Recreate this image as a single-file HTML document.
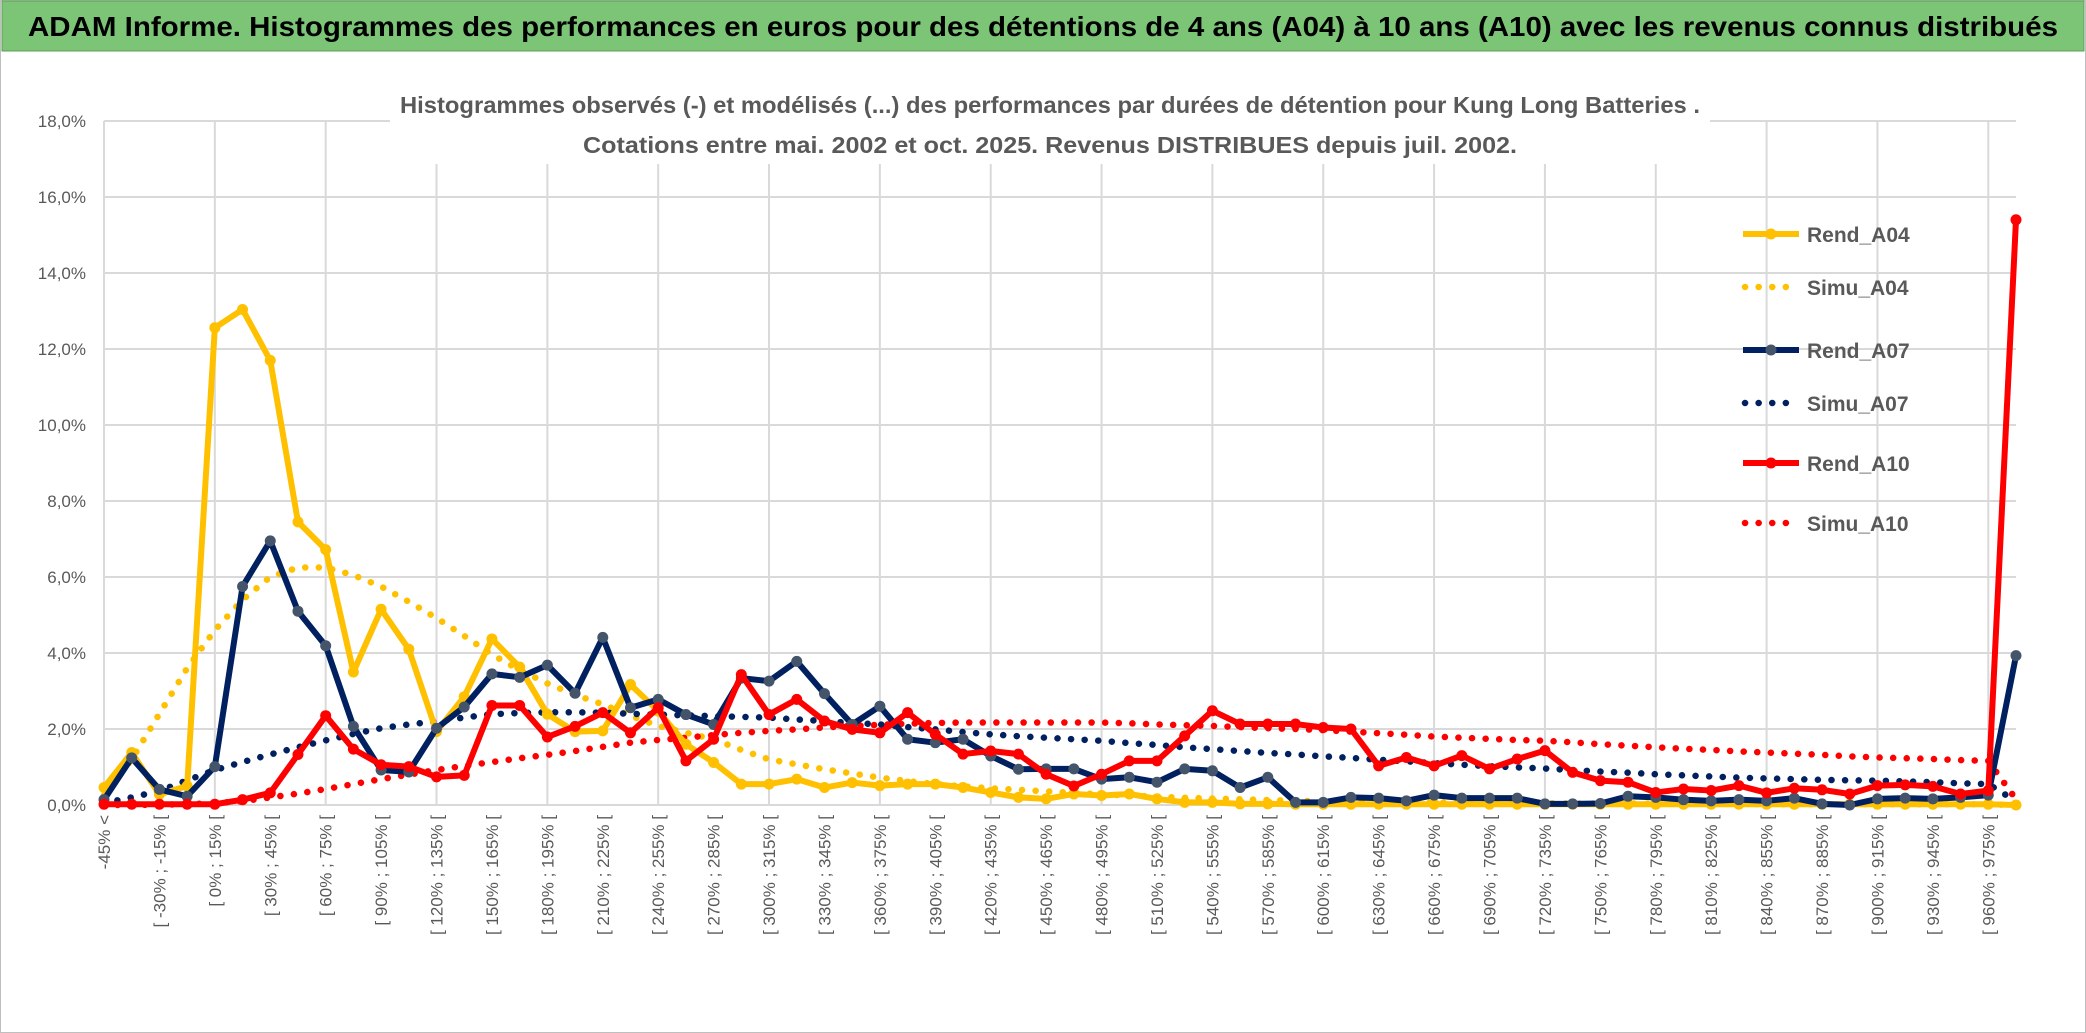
<!DOCTYPE html>
<html><head><meta charset="utf-8"><style>
html,body{margin:0;padding:0;background:#fff}
svg{display:block}
text{font-family:"Liberation Sans",sans-serif}
</style></head><body>
<svg id="chart" width="2086" height="1033" viewBox="0 0 2086 1033" xmlns="http://www.w3.org/2000/svg">
<rect x="0.5" y="0.5" width="2085" height="1032" fill="#fff" stroke="#bfbfbf"/>
<rect x="2" y="1" width="2082" height="50" fill="#7cc576" stroke="#5a9f55"/>
<text x="1043" y="36" text-anchor="middle" font-size="28" font-weight="bold" fill="#000" textLength="2030" lengthAdjust="spacingAndGlyphs">ADAM Informe. Histogrammes des performances en euros pour des détentions de 4 ans (A04) à 10 ans (A10) avec les revenus connus distribués</text>
<g id="grid"></g><g id="yaxis"></g><g id="xaxis"></g>
<rect x="390" y="88" width="1320" height="76" fill="#fff"/>
<text x="1050" y="113" text-anchor="middle" font-size="23" font-weight="bold" fill="#595959" textLength="1300" lengthAdjust="spacingAndGlyphs">Histogrammes observés (-) et modélisés (...) des performances par durées de détention pour Kung Long Batteries .</text>
<text x="1050" y="153" text-anchor="middle" font-size="23" font-weight="bold" fill="#595959" textLength="934" lengthAdjust="spacingAndGlyphs">Cotations entre mai. 2002 et oct. 2025. Revenus DISTRIBUES depuis juil. 2002.</text>
<g id="series"></g><g id="legend"></g>
</svg>
<script>
const categories = [];
categories.push('-45% <');
for (let lo = -45; lo < 975; lo += 15) categories.push('[ ' + lo + '% ; ' + (lo + 15) + '% [');
categories.push('> 975%');
const yTicks = [0,2,4,6,8,10,12,14,16,18];
const rendA04 = [0.46,1.38,0.28,0.5,12.56,13.04,11.7,7.45,6.72,3.5,5.15,4.1,1.93,2.85,4.37,3.63,2.39,1.93,1.95,3.17,2.47,1.6,1.12,0.55,0.55,0.68,0.46,0.59,0.51,0.55,0.55,0.46,0.33,0.2,0.16,0.29,0.25,0.29,0.16,0.07,0.07,0.03,0.03,0.02,0.02,0.02,0.02,0.02,0.02,0.02,0.02,0.02,0.02,0.02,0.02,0.02,0.02,0.02,0.02,0.02,0.02,0.02,0.02,0.02,0.02,0.02,0.02,0.02,0.02,0.0];
const simuA04 = [0.25,1.2,2.4,3.6,4.6,5.4,6.0,6.25,6.25,6.05,5.75,5.35,4.92,4.45,3.96,3.55,3.2,2.9,2.65,2.35,2.08,1.9,1.73,1.45,1.2,1.07,0.94,0.83,0.72,0.63,0.55,0.49,0.44,0.4,0.36,0.32,0.28,0.25,0.22,0.19,0.17,0.15,0.13,0.11,0.1,0.09,0.08,0.07,0.07,0.06,0.06,0.05,0.05,0.04,0.04,0.04,0.03,0.03,0.03,0.03,0.02,0.02,0.02,0.02,0.02,0.02,0.02,0.02,0.02,0.0];
const rendA07 = [0.14,1.24,0.41,0.23,1.01,5.75,6.95,5.1,4.19,2.07,0.92,0.87,2.02,2.58,3.45,3.36,3.68,2.94,4.41,2.56,2.78,2.38,2.12,3.34,3.26,3.78,2.93,2.12,2.6,1.73,1.64,1.73,1.29,0.94,0.95,0.95,0.68,0.73,0.6,0.95,0.9,0.46,0.73,0.07,0.07,0.2,0.18,0.11,0.26,0.18,0.18,0.18,0.03,0.03,0.04,0.23,0.2,0.14,0.11,0.14,0.11,0.18,0.03,0.0,0.16,0.18,0.16,0.2,0.26,3.93];
const simuA07 = [0.05,0.2,0.37,0.65,0.92,1.13,1.33,1.52,1.7,1.87,2.02,2.12,2.2,2.3,2.39,2.42,2.44,2.44,2.43,2.4,2.38,2.36,2.34,2.32,2.3,2.25,2.21,2.16,2.12,2.05,1.99,1.92,1.86,1.81,1.77,1.73,1.69,1.63,1.58,1.52,1.47,1.42,1.37,1.33,1.28,1.24,1.19,1.15,1.1,1.06,1.02,0.99,0.96,0.92,0.88,0.85,0.81,0.78,0.75,0.72,0.7,0.68,0.66,0.65,0.64,0.62,0.6,0.57,0.55,0.1];
const rendA10 = [0.02,0.02,0.02,0.02,0.02,0.14,0.32,1.33,2.35,1.47,1.06,1.01,0.74,0.78,2.62,2.62,1.79,2.07,2.43,1.9,2.56,1.16,1.73,3.43,2.38,2.78,2.21,1.99,1.9,2.43,1.86,1.34,1.42,1.34,0.81,0.5,0.81,1.16,1.16,1.82,2.48,2.13,2.13,2.13,2.04,2.0,1.03,1.25,1.03,1.3,0.95,1.21,1.43,0.86,0.64,0.6,0.33,0.42,0.38,0.51,0.32,0.44,0.4,0.29,0.51,0.53,0.49,0.29,0.38,15.4];
const simuA10 = [0,0,0.01,0.02,0.05,0.1,0.2,0.3,0.42,0.55,0.68,0.8,0.92,1.03,1.13,1.23,1.32,1.42,1.53,1.64,1.71,1.77,1.84,1.9,1.95,1.99,2.04,2.08,2.11,2.14,2.16,2.17,2.17,2.17,2.17,2.17,2.17,2.15,2.12,2.1,2.08,2.05,2.02,2.0,1.97,1.93,1.89,1.85,1.8,1.77,1.74,1.71,1.69,1.65,1.6,1.56,1.52,1.48,1.45,1.41,1.38,1.35,1.32,1.28,1.25,1.23,1.21,1.18,1.16,0.15];

const NS = 'http://www.w3.org/2000/svg';
const X0 = 104, X1 = 2016, Y0 = 805, YT = 121, YMAX = 18;
const step = (X1 - X0) / (categories.length - 1);
function xs(i){ return X0 + i * step; }
function ys(v){ return Y0 - v * (Y0 - YT) / YMAX; }
function mk(tag, attrs, parent){ const e = document.createElementNS(NS, tag); for (const k in attrs) e.setAttribute(k, attrs[k]); parent.appendChild(e); return e; }
const grid = document.getElementById('grid');
yTicks.forEach(t => {
  const l = mk('line', {x1:X0, x2:X1, y1:ys(t), y2:ys(t), stroke:'#d9d9d9', 'stroke-width':2}, grid);
  
  
});
for (let i = 0; i < categories.length; i += 4) {
  const l = mk('line', {x1:xs(i), x2:xs(i), y1:YT, y2:Y0, stroke:'#d9d9d9', 'stroke-width':2}, grid);
  
  
}
const yax = document.getElementById('yaxis');
yTicks.forEach(t => {
  const tx = mk('text', {x:86, y:ys(t) + 6, 'text-anchor':'end', 'font-size':17, fill:'#595959'}, yax);
  tx.textContent = t.toFixed(1).replace('.', ',') + '%';
  
  
});
const xax = document.getElementById('xaxis');
categories.forEach((c, i) => {
  if (i % 2 !== 0) return;
  const x = xs(i), y = 815;
  const tx = mk('text', {x:x, y:y, 'text-anchor':'end', 'font-size':17, fill:'#595959', transform:'rotate(-90 ' + x + ' ' + y + ')', dy:'6'}, xax);
  tx.textContent = c;
  
  
});
const seriesG = document.getElementById('series');
function drawSim(data, color, name){
  const pts = data.map((v, i) => xs(i) + ',' + ys(v)).join(' ');
  const p = mk('polyline', {points:pts, fill:'none', stroke:color, 'stroke-width':6.5, 'stroke-linecap':'round', 'stroke-dasharray':'0.1 13.5'}, seriesG);
  
  
}
function drawRend(data, color, mcolor, name){
  const g = mk('g', {}, seriesG);
  
  
  const pts = data.map((v, i) => xs(i) + ',' + ys(v)).join(' ');
  mk('polyline', {points:pts, fill:'none', stroke:color, 'stroke-width':6, 'stroke-linejoin':'round'}, g);
  data.forEach((v, i) => {
    const c = mk('circle', {cx:xs(i), cy:ys(v), r:5.5, fill:mcolor}, g);
    
    
  });
}
drawSim(simuA04, '#ffc000', 'simu-a04-line');
drawSim(simuA07, '#002060', 'simu-a07-line');
drawSim(simuA10, '#ff0000', 'simu-a10-line');
drawRend(rendA04, '#ffc000', '#ffc000', 'rend-a04-line');
drawRend(rendA07, '#002060', '#44546a', 'rend-a07-line');
drawRend(rendA10, '#ff0000', '#ff0000', 'rend-a10-line');
const legend = document.getElementById('legend');
const legendNames = ['Rend_A04','Simu_A04','Rend_A07','Simu_A07','Rend_A10','Simu_A10'];
const legendColors = ['#ffc000','#ffc000','#002060','#002060','#ff0000','#ff0000'];
const legendY = [234, 287, 350, 403, 463, 523];
legendNames.forEach((n, k) => {
  const g = mk('g', {}, legend);
  
  
  const y = legendY[k];
  if (k % 2 === 0) {
    mk('line', {x1:1743, x2:1799, y1:y, y2:y, stroke:legendColors[k], 'stroke-width':6}, g);
    mk('circle', {cx:1771, cy:y, r:5.5, fill: k === 2 ? '#44546a' : legendColors[k]}, g);
  } else {
    mk('line', {x1:1745, x2:1799, y1:y, y2:y, stroke:legendColors[k], 'stroke-width':6.5, 'stroke-linecap':'round', 'stroke-dasharray':'0.1 13.5'}, g);
  }
  const t = mk('text', {x:1807, y:y + 8, 'font-size':21, 'font-weight':'bold', fill:'#595959'}, g);
  t.textContent = n;
});
</script>
</body></html>
